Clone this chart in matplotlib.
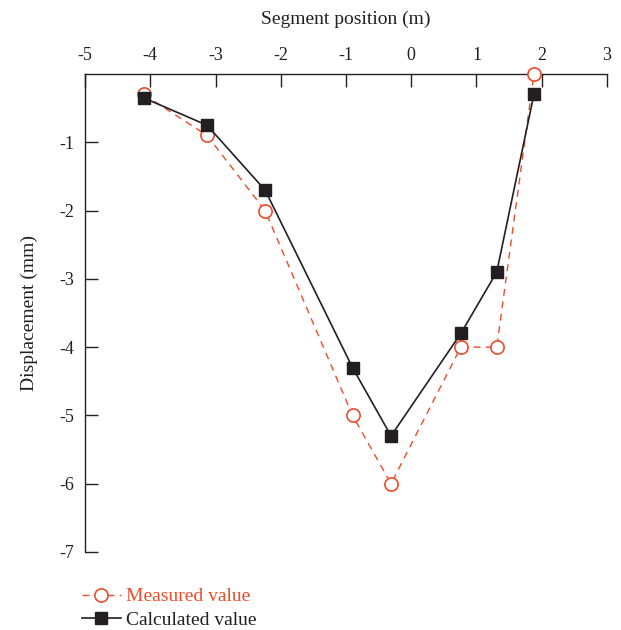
import matplotlib
matplotlib.use("Agg")
import matplotlib.pyplot as plt

plt.rcParams['font.family'] = ['Liberation Serif', 'DejaVu Serif']
plt.rcParams['axes.unicode_minus'] = False

x_pos = [-4.10, -3.13, -2.24, -0.90, -0.31, 0.76, 1.31, 1.88]
measured = [-0.30, -0.90, -2.00, -5.00, -6.00, -4.00, -4.00, 0.0]
calculated = [-0.35, -0.75, -1.70, -4.30, -5.30, -3.80, -2.90, -0.30]
x_ticks = [-5, -4, -3, -2, -1, 0, 1, 2, 3]
y_ticks = [-1, -2, -3, -4, -5, -6, -7]

red = '#EE4B2B'
dark = '#231F20'
fig = plt.figure(figsize=(6.21, 6.30), dpi=100)
ax = fig.add_axes([85/621, 1-552/630, (607-85)/621, (552-74)/630])

l1, = ax.plot(x_pos, measured, linestyle=(0, (5, 4)), color=red, lw=1.0,
              marker='o', markersize=9.5, markerfacecolor='white',
              markeredgecolor=red, markeredgewidth=1.2, clip_on=False, zorder=3,
              label='Measured value')
l2, = ax.plot(x_pos, calculated, linestyle='-', color=dark, lw=1.2,
              marker='s', markersize=9, markerfacecolor=dark,
              markeredgecolor=dark, clip_on=False, zorder=4,
              label='Calculated value')

ax.set_xlim(-5, 3)
ax.set_ylim(-7, 0)
ax.set_xticks(x_ticks)
ax.set_yticks(y_ticks)
ax.xaxis.tick_top()
ax.xaxis.set_label_position('top')
ax.spines['bottom'].set_visible(False)
ax.spines['right'].set_visible(False)
ax.tick_params(axis='both', direction='in', length=9, width=1.0, labelsize=13, color=dark, labelcolor=dark)
ax.tick_params(axis='x', pad=7)
ax.tick_params(axis='y', pad=8)
for s in ['top', 'left']:
    ax.spines[s].set_linewidth(1.0)
    ax.spines[s].set_color(dark)
ax.set_xlabel('Segment position (m)', fontsize=14, labelpad=17, color=dark)
ax.set_ylabel('Displacement (mm)', fontsize=14, labelpad=15, color=dark)

leg = fig.legend(handles=[l1, l2], loc='upper left', bbox_to_anchor=(74/621, 1-580/630),
                 frameon=False, fontsize=14, handlelength=2.0, handletextpad=0.3,
                 labelspacing=0.3, borderaxespad=0)
leg.get_texts()[0].set_color(red)
leg.get_texts()[1].set_color(dark)

fig.savefig('out.png', dpi=100)
